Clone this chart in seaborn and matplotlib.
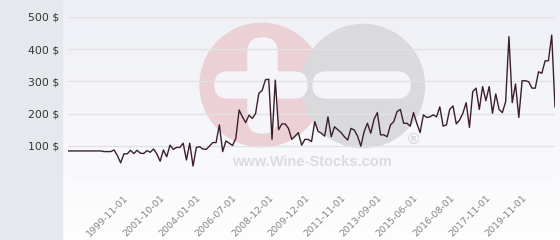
import numpy as np
import pandas as pd
import matplotlib
matplotlib.use("Agg")
import matplotlib.pyplot as plt
import seaborn as sns
from matplotlib.patches import Circle, FancyBboxPatch, Rectangle

# ---- data ----
prices = [84, 84, 84, 84, 84, 84, 84, 84, 84, 84, 84,
          82, 82, 82, 87, 70, 47, 75, 75, 86, 76, 86, 77, 76, 85, 80, 90, 75, 52, 87,
          66, 102, 89, 95, 95, 108, 56, 108, 37, 95, 97, 90, 89, 99, 110, 110, 165, 82, 115, 108,
          101, 123, 211, 190, 172, 195, 185, 200, 263, 272, 305, 307, 120, 304, 150, 168, 168, 154, 120, 130,
          141, 102, 120, 120, 113, 175, 145, 139, 130, 190, 128, 159, 150, 141, 128, 118, 154, 149, 130, 99,
          144, 170, 139, 182, 203, 134, 134, 128, 165, 175, 206, 213, 170, 170, 161, 203, 170, 141, 196, 188,
          190, 196, 190, 221, 161, 165, 213, 224, 168, 180, 201, 234, 157, 268, 279, 213, 284, 240, 284, 201,
          261, 213, 203, 237, 439, 234, 292, 188, 302, 302, 299, 279, 279, 330, 325, 364, 364, 444, 220]
tick_positions = [17, 28, 39, 50, 61, 72, 83, 94, 105, 116, 127, 138]
tick_labels = ["1999-11-01", "2001-10-01", "2004-01-01", "2006-07-01", "2008-12-01", "2009-12-01",
               "2011-11-01", "2013-09-01", "2015-06-01", "2016-08-01", "2017-11-01", "2019-11-01"]
y_ticks = [0, 100, 200, 300, 400, 500]
y_labels = ["", "100 $", "200 $", "300 $", "400 $", "500 $"]

df = pd.DataFrame({"idx": np.arange(len(prices)), "price": prices})

sns.set_theme(style="white")
plt.rcParams['font.family'] = ['DejaVu Sans']

fig = plt.figure(figsize=(5.6, 2.4), dpi=100)
fig.patch.set_facecolor('white')

# background layer in pixel coordinates
bg = fig.add_axes([0, 0, 1, 1], zorder=-10)
bg.set_xlim(0, 560)
bg.set_ylim(240, 0)
bg.axis('off')
g = np.linspace(0, 1, 240)[:, None, None]
top = np.array([0.935, 0.940, 0.962])
bottom = np.array([0.995, 0.995, 0.998])
img = top * (1 - g) + bottom * g
bg.imshow(img, extent=[63, 560, 240, 0], aspect='auto', zorder=0)
bg.add_patch(Rectangle((0, 0), 62, 240, color='#e5e9ed', zorder=1))

# watermark
pink = '#ebd0d6'
grey = '#dadadc'
bg.add_patch(Circle((261.7, 85), 61.7, color=pink, zorder=2))
bg.add_patch(Circle((363, 86), 61.5, color=grey, zorder=3))
wcol = '#f5f5f8'
bg.add_patch(FancyBboxPatch((248, 38), 29, 95, boxstyle="round,pad=0,rounding_size=14",
                            color=wcol, zorder=4))
bg.add_patch(FancyBboxPatch((215, 72), 92, 26, boxstyle="round,pad=0,rounding_size=13",
                            color=wcol, zorder=4))
bg.add_patch(FancyBboxPatch((313, 72), 97, 26, boxstyle="round,pad=0,rounding_size=13",
                            color=wcol, zorder=4))
bg.text(312, 162, "www.Wine-Stocks.com", ha='center', va='center', fontsize=10.5,
        fontweight='bold', color='#dcdcdf', family=['Liberation Sans', 'DejaVu Sans'], zorder=5)
bg.text(413, 140, "\u00ae", ha='center', va='center', fontsize=11, color='#d2d2d4',
        family=['Liberation Sans', 'DejaVu Sans'], zorder=5)

# main chart
ax = fig.add_axes([68 / 560, 62 / 240, 487 / 560, 161 / 240])
ax.set_facecolor('none')
sns.lineplot(data=df, x="idx", y="price", ax=ax, color='#3b1f2b', linewidth=1.0)
ax.set_xlim(0, len(prices) - 1)
ax.set_ylim(0, 500)
for s in ax.spines.values():
    s.set_visible(False)
ax.set_yticks(y_ticks)
ax.set_yticklabels(y_labels, fontsize=7.8, color='#333333')
ax.yaxis.grid(True, color='#e2e2e4', linewidth=1)
ax.xaxis.grid(False)
ax.set_axisbelow(True)
ax.tick_params(axis='y', length=0, pad=6.5)
ax.set_xticks(tick_positions)
ax.set_xticklabels(tick_labels, rotation=45, ha='right', va='top', rotation_mode='anchor',
                   fontsize=6.8, color='#858585')
ax.tick_params(axis='x', length=0, pad=11)
ax.set_xlabel('')
ax.set_ylabel('')

fig.savefig('out.png', dpi=100)
